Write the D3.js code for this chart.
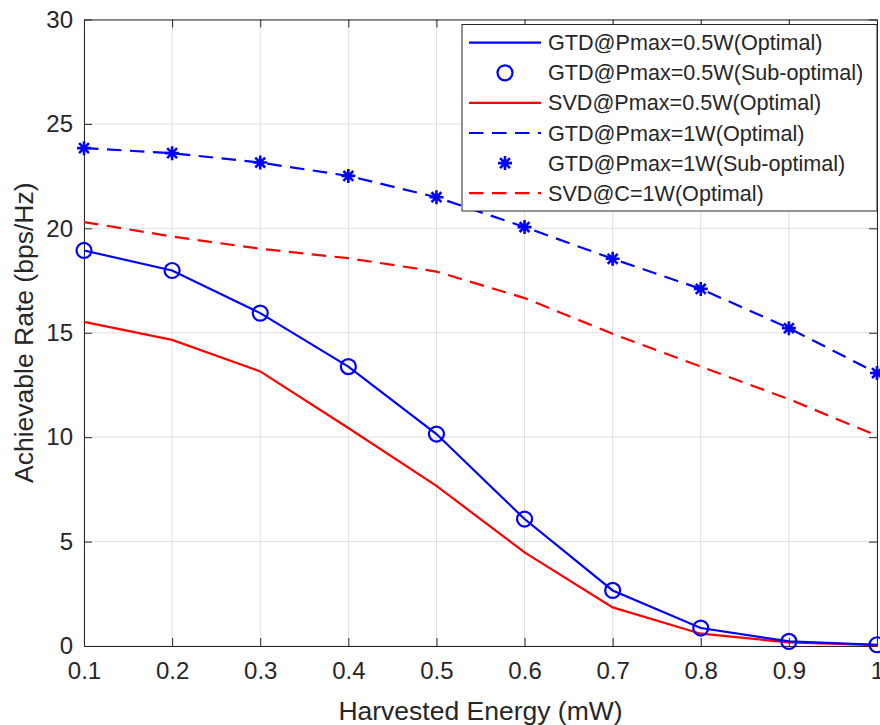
<!DOCTYPE html>
<html>
<head>
<meta charset="utf-8">
<script src="https://cdn.jsdelivr.net/npm/d3@7"></script>
<style>
  html, body { margin: 0; padding: 0; background: #fff; }
  svg { display: block; font-family: "Liberation Sans", Arial, Helvetica, sans-serif; }
</style>
</head>
<body>
<svg id="chart" width="880" height="725"></svg>
<script>
// Harvested energy (mW) on the x axis
const energy = [0.1, 0.2, 0.3, 0.4, 0.5, 0.6, 0.7, 0.8, 0.9, 1.0];

// Achievable rate (bps/Hz) for each scheme
const gtdHalfOptimal    = [18.94, 17.98, 15.94, 13.38, 10.15, 6.08, 2.66, 0.86, 0.22, 0.06];
const gtdHalfSubOptimal = [18.94, 17.98, 15.94, 13.38, 10.15, 6.08, 2.66, 0.86, 0.22, 0.06];
const svdHalfOptimal    = [15.52, 14.66, 13.15, 10.44, 7.67, 4.48, 1.85, 0.59, 0.17, 0.04];
const gtdOneOptimal     = [23.84, 23.60, 23.15, 22.51, 21.49, 20.06, 18.54, 17.10, 15.22, 13.07];
const gtdOneSubOptimal  = [23.84, 23.60, 23.15, 22.51, 21.49, 20.06, 18.54, 17.10, 15.22, 13.07];
const svdOneOptimal     = [20.30, 19.61, 19.02, 18.57, 17.93, 16.66, 14.95, 13.38, 11.82, 10.07];

const xTicks = [0.1, 0.2, 0.3, 0.4, 0.5, 0.6, 0.7, 0.8, 0.9, 1];
const yTicks = [0, 5, 10, 15, 20, 25, 30];

const legendLabels = [
  "GTD@Pmax=0.5W(Optimal)",
  "GTD@Pmax=0.5W(Sub-optimal)",
  "SVD@Pmax=0.5W(Optimal)",
  "GTD@Pmax=1W(Optimal)",
  "GTD@Pmax=1W(Sub-optimal)",
  "SVD@C=1W(Optimal)"
];

const axisColor = "#262626";
const gridColor = "#dfdfdf";
const blue = "#0000ff";
const red = "#ff0000";

const plot = { left: 84, right: 877, top: 19.5, bottom: 646 };

const svg = d3.select("#chart");

const x = d3.scaleLinear().domain([0.1, 1]).range([plot.left, plot.right]);
const y = d3.scaleLinear().domain([0, 30]).range([plot.bottom, plot.top]);

// Grid
const grid = svg.append("g");
grid.selectAll("line.gx").data(xTicks).join("line")
  .attr("x1", d => x(d)).attr("x2", d => x(d))
  .attr("y1", plot.top).attr("y2", plot.bottom)
  .attr("stroke", gridColor).attr("stroke-width", 1);
grid.selectAll("line.gy").data(yTicks).join("line")
  .attr("x1", plot.left).attr("x2", plot.right)
  .attr("y1", d => y(d)).attr("y2", d => y(d))
  .attr("stroke", gridColor).attr("stroke-width", 1);

// Axes: inward ticks on all four sides
const tickLen = 8;
const axisBottom = d3.axisBottom(x).tickValues(xTicks).tickSizeInner(-tickLen).tickSizeOuter(0)
  .tickPadding(16).tickFormat(d => d === 1 ? "1" : d3.format(".1f")(d));
const axisTop = d3.axisTop(x).tickValues(xTicks).tickSizeInner(-tickLen).tickSizeOuter(0).tickFormat("");
const axisLeft = d3.axisLeft(y).tickValues(yTicks).tickSizeInner(-tickLen).tickSizeOuter(0)
  .tickPadding(11).tickFormat(d3.format("d"));
const axisRight = d3.axisRight(y).tickValues(yTicks).tickSizeInner(-tickLen).tickSizeOuter(0).tickFormat("");

function styleAxis(g) {
  g.select(".domain").attr("stroke", axisColor).attr("stroke-width", 1);
  g.selectAll(".tick line").attr("stroke", axisColor).attr("stroke-width", 1);
  g.selectAll(".tick text").attr("fill", axisColor).style("font-size", "24px")
    .style("font-family", "'Liberation Sans', Arial, sans-serif");
}

svg.append("g").attr("transform", `translate(0,${plot.bottom})`).call(axisBottom).call(styleAxis);
svg.append("g").attr("transform", `translate(0,${plot.top})`).call(axisTop).call(styleAxis);
svg.append("g").attr("transform", `translate(${plot.left},0)`).call(axisLeft).call(styleAxis);
svg.append("g").attr("transform", `translate(${plot.right},0)`).call(axisRight).call(styleAxis);

// Axis titles
svg.append("text")
  .attr("x", (plot.left + plot.right) / 2).attr("y", 720)
  .attr("text-anchor", "middle").attr("fill", axisColor)
  .style("font-size", "26.5px")
  .text("Harvested Energy (mW)");
svg.append("text")
  .attr("transform", `translate(33,${(plot.top + plot.bottom) / 2}) rotate(-90)`)
  .attr("text-anchor", "middle").attr("fill", axisColor)
  .style("font-size", "26.5px")
  .text("Achievable Rate (bps/Hz)");

// Series
const line = d3.line().x((d, i) => x(energy[i])).y(d => y(d));
const dash = "14.5,8.5";
const lines = svg.append("g");

function drawLine(values, color, dashed) {
  lines.append("path").datum(values)
    .attr("d", line).attr("fill", "none")
    .attr("stroke", color).attr("stroke-width", 2.2)
    .attr("stroke-dasharray", dashed ? dash : null);
}

drawLine(svdHalfOptimal, red, false);
drawLine(gtdHalfOptimal, blue, false);
drawLine(svdOneOptimal, red, true);
drawLine(gtdOneOptimal, blue, true);

// Asterisk marker path centred on (0,0)
function starPath(r) {
  const d = r * Math.SQRT1_2;
  return `M${-r},0L${r},0M0,${-r}L0,${r}M${-d},${-d}L${d},${d}M${-d},${d}L${d},${-d}`;
}

const markers = svg.append("g");
markers.selectAll("circle").data(gtdHalfSubOptimal).join("circle")
  .attr("cx", (d, i) => x(energy[i])).attr("cy", d => y(d))
  .attr("r", 7.5).attr("fill", "none").attr("stroke", blue).attr("stroke-width", 2.2);
markers.selectAll("path.star").data(gtdOneSubOptimal).join("path")
  .attr("class", "star")
  .attr("transform", (d, i) => `translate(${x(energy[i])},${y(d)})`)
  .attr("d", starPath(7)).attr("fill", "none").attr("stroke", blue).attr("stroke-width", 2.6);

// Legend
const legend = svg.append("g");
legend.append("rect")
  .attr("x", 462).attr("y", 24.5).attr("width", 415).attr("height", 186.5)
  .attr("fill", "#fff").attr("stroke", axisColor).attr("stroke-width", 1);

const legendItems = [
  { color: blue, kind: "line" },
  { color: blue, kind: "circle" },
  { color: red, kind: "line" },
  { color: blue, kind: "dash" },
  { color: blue, kind: "star" },
  { color: red, kind: "dash" }
];

legendItems.forEach((item, i) => {
  const cy = 42.7 + i * 30.1;
  const g = legend.append("g");
  if (item.kind === "line" || item.kind === "dash") {
    g.append("line").attr("x1", 469).attr("x2", 541).attr("y1", cy).attr("y2", cy)
      .attr("stroke", item.color).attr("stroke-width", 2.2)
      .attr("stroke-dasharray", item.kind === "dash" ? dash : null);
  } else if (item.kind === "circle") {
    g.append("circle").attr("cx", 505).attr("cy", cy).attr("r", 7.5)
      .attr("fill", "none").attr("stroke", item.color).attr("stroke-width", 2.2);
  } else {
    g.append("path").attr("transform", `translate(505,${cy})`).attr("d", starPath(7))
      .attr("fill", "none").attr("stroke", item.color).attr("stroke-width", 2.6);
  }
  g.append("text").attr("x", 548).attr("y", cy).attr("dy", "0.35em")
    .attr("fill", axisColor).style("font-size", "21.6px")
    .text(legendLabels[i]);
});
</script>
</body>
</html>
